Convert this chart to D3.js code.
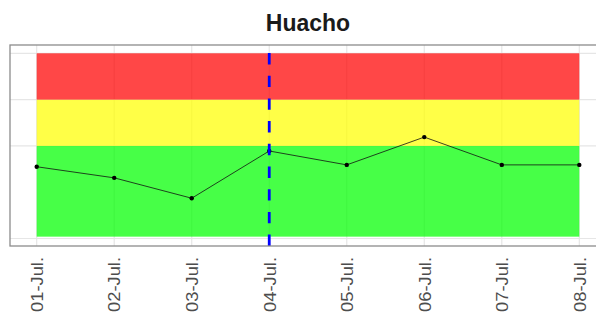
<!DOCTYPE html>
<html lang="es">
<head>
<meta charset="UTF-8">
<title>Huacho</title>
<script src="https://d3js.org/d3.v7.min.js"></script>
<style>
  body { margin: 0; background: #fff; font-family: "Liberation Sans", Arial, sans-serif; }
  svg { display: block; }
</style>
</head>
<body>
<svg width="596" height="317"></svg>
<script>
// fechas y valores
const dates = ["2023-07-01", "2023-07-02", "2023-07-03", "2023-07-04",
               "2023-07-05", "2023-07-06", "2023-07-07", "2023-07-08"];
const values = [1.55, 1.31, 0.87, 1.89, 1.59, 2.19, 1.59, 1.59];
const tickLabels = ["01-Jul.", "02-Jul.", "03-Jul.", "04-Jul.", "05-Jul.", "06-Jul.", "07-Jul.", "08-Jul."];
const bands = [
  {from: 0.04, to: 2, color: "#00ff00"},
  {from: 2, to: 3, color: "#ffff00"},
  {from: 3, to: 4, color: "#ff0000"}
];
const yBreaks = [0, 2, 3, 4];
const markerDate = "2023-07-04";

const parse = d3.timeParse("%Y-%m-%d");
const days = dates.map(parse);
const data = days.map((d, i) => ({date: d, value: values[i]}));

const svg = d3.select("svg");
const panel = {left: 10, right: 606, top: 45, bottom: 246};

const x = d3.scaleTime()
    .domain([days[0], days[days.length - 1]])
    .range([36.7, 579.3]);
const y = d3.scaleLinear()
    .domain([0, 4])
    .range([238.5, 53.3]);

// gridlines
const grid = svg.append("g");
grid.selectAll("line.h").data(yBreaks).enter().append("line")
    .attr("x1", panel.left).attr("x2", panel.right)
    .attr("y1", d => y(d)).attr("y2", d => y(d))
    .attr("stroke", "#e6e6e6").attr("stroke-width", 1.2);
grid.selectAll("line.v").data(days).enter().append("line")
    .attr("x1", d => x(d)).attr("x2", d => x(d))
    .attr("y1", panel.top).attr("y2", panel.bottom)
    .attr("stroke", "#e6e6e6").attr("stroke-width", 1.2);

// bandas de alerta
svg.append("g").selectAll("rect").data(bands).enter().append("rect")
    .attr("x", x(days[0]))
    .attr("width", x(days[days.length - 1]) - x(days[0]))
    .attr("y", d => y(d.to))
    .attr("height", d => y(d.from) - y(d.to))
    .attr("fill", d => d.color)
    .attr("fill-opacity", 0.72);

// línea
const line = d3.line().x(d => x(d.date)).y(d => y(d.value));
svg.append("path").datum(data)
    .attr("d", line)
    .attr("fill", "none")
    .attr("stroke", "#111")
    .attr("stroke-width", 0.8);
svg.append("g").selectAll("circle").data(data).enter().append("circle")
    .attr("cx", d => x(d.date)).attr("cy", d => y(d.value))
    .attr("r", 2.2).attr("fill", "#000");

// línea vertical discontinua
svg.append("line")
    .attr("x1", x(parse(markerDate))).attr("x2", x(parse(markerDate)))
    .attr("y1", panel.bottom).attr("y2", panel.top)
    .attr("stroke", "#0000ff")
    .attr("stroke-width", 2.8)
    .attr("stroke-dasharray", "11.4,11.3");

// borde del panel
svg.append("rect")
    .attr("x", panel.left).attr("y", panel.top)
    .attr("width", panel.right - panel.left).attr("height", panel.bottom - panel.top)
    .attr("fill", "none").attr("stroke", "#8c8c8c").attr("stroke-width", 1.3);

// eje x
const xAxis = svg.append("g")
    .attr("transform", `translate(0,${panel.bottom})`)
    .call(d3.axisBottom(x).tickValues(days).tickSize(0).tickFormat((d, i) => tickLabels[i]));
xAxis.select(".domain").remove();
xAxis.selectAll("text")
    .attr("transform", "rotate(-90)")
    .attr("x", -11).attr("y", 0).attr("dy", "0.36em")
    .attr("text-anchor", "end")
    .attr("fill", "#4d4d4d")
    .style("font-family", "'Liberation Sans', Arial, sans-serif")
    .style("font-size", "16px")
    .attr("textLength", 55)
    .attr("lengthAdjust", "spacingAndGlyphs");

// título
svg.append("text")
    .attr("x", (panel.left + panel.right) / 2)
    .attr("y", 31)
    .attr("text-anchor", "middle")
    .style("font-family", "'Liberation Sans', Arial, sans-serif")
    .style("font-weight", "bold")
    .style("font-size", "23px")
    .attr("fill", "#1a1a1a")
    .text("Huacho");
</script>
</body>
</html>
